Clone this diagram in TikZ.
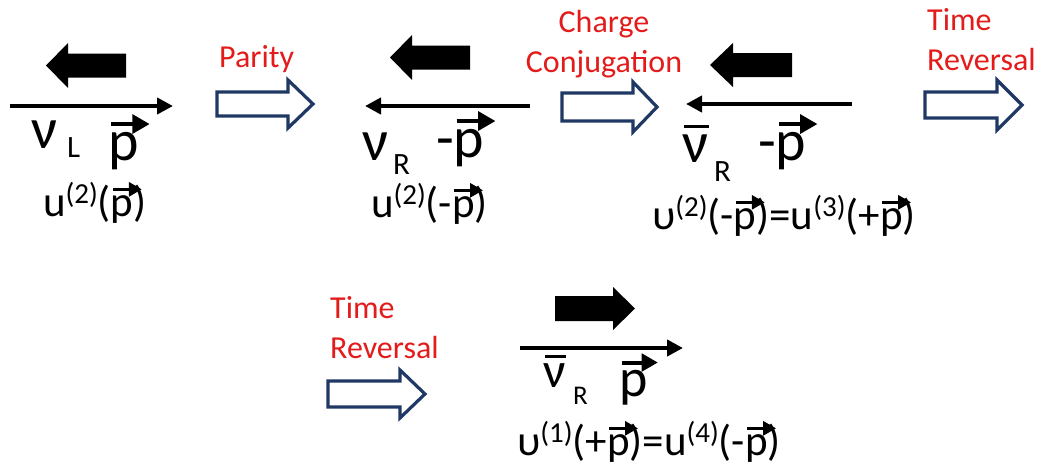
\documentclass[tikz,border=0pt]{standalone}
\usepackage{fontspec}
\setmainfont{Carlito}
\usetikzlibrary{arrows.meta}
\definecolor{navy}{HTML}{1F3864}
\definecolor{lblred}{HTML}{E31B1B}
\newcommand\vp{\leavevmode\rlap{\tikz[overlay,x=1em,y=1em]\draw[line width=0.075em,-{Triangle[length=0.3em,width=0.32em]}] (0.05,0.62) -- (0.72,0.62);}p}
\newcommand\bnu{\leavevmode\rlap{\tikz[overlay,x=1em,y=1em]\fill (0.03,0.59) rectangle (0.46,0.645);}ν}
\newcommand\sups[1]{\raisebox{13pt}{\fontsize{29}{29}\selectfont #1}}
\tikzset{
  txt/.style={inner sep=0pt,outer sep=0pt,anchor=base west},
  big/.style={txt,font=\fontsize{58}{58}\selectfont},
  subl/.style={txt,font=\fontsize{31}{31}\selectfont},
  formula/.style={txt,font=\fontsize{43}{43}\selectfont},
  op/.style={inner sep=0pt,font=\fontsize{32}{40}\selectfont,text=lblred},
  momentum/.style={line width=4.5pt,-{Triangle[length=16pt,width=16pt]}},
  hollow/.style={draw=navy,line width=3.2pt,fill=white,line join=miter},
  block/.style={fill=black}
}
\begin{document}
\begin{tikzpicture}[x=1pt,y=-1pt]
\useasboundingbox (0,0) rectangle (1041,474);
% ---------- panel 1
\fill[block] (46,65.5) -- (68,43) -- (68,53.5) -- (126,53.5) -- (126,77.5) -- (68,77.5) -- (68,88) -- cycle;
\coordinate (m1a) at (10,106); \coordinate (m1b) at (173,106);
\draw[momentum] (m1a) -- (m1b);
\node[big] (nu1) at (31,148) {ν};
\node[subl] (sub1) at (67,157) {L};
\node[big] (p1) at (108,160) {\vp};
\node[formula] (f1) at (43,216) {u\sups{(2)}(\vp)};
% operation 1
\node[op,anchor=base west] (parity) at (219,67) {Parity};
\draw[hollow] (217,92) -- (288,92) -- (288,80) -- (313,104) -- (288,128) -- (288,116) -- (217,116) -- cycle;
% ---------- panel 2
\fill[block] (390,57.5) -- (412,35) -- (412,45.5) -- (470,45.5) -- (470,69.5) -- (412,69.5) -- (412,80) -- cycle;
\coordinate (m2a) at (530,106); \coordinate (m2b) at (365,106);
\draw[momentum] (m2a) -- (m2b);
\node[big] (nu2) at (362,160) {ν};
\node[subl] (sub2) at (393,174) {R};
\node[big] (p2) at (436,157) {-\vp};
\node[formula] (f2) at (371,217) {u\sups{(2)}(-\vp)};
% operation 2
\node[op,align=center,anchor=base] (cc) at (604,72) {Charge\\Conjugation};
\draw[hollow] (562,93) -- (633,93) -- (633,82) -- (657,107) -- (633,132) -- (633,121) -- (562,121) -- cycle;
% ---------- panel 3
\fill[block] (710,65) -- (733,43) -- (733,53) -- (792,53) -- (792,77) -- (733,77) -- (733,87) -- cycle;
\coordinate (m3a) at (852,104); \coordinate (m3b) at (686,104);
\draw[momentum] (m3a) -- (m3b);
\node[big] (nu3) at (682,162) {\bnu};
\node[subl] (sub3) at (714,181) {R};
\node[big] (p3) at (758,160) {-\vp};
\node[formula] (f3) at (652,229) {υ\sups{(2)}(-\vp)=u\sups{(3)}(+\vp)};
% operation 3
\node[op,align=left,anchor=base west] (tr1) at (927,70) {Time\\Reversal};
\draw[hollow] (925,92) -- (997,92) -- (997,80) -- (1022,105) -- (997,130) -- (997,118) -- (925,118) -- cycle;
% ---------- bottom
\node[op,align=left,anchor=base west] (tr2) at (330,358) {Time\\Reversal};
\draw[hollow] (328,381) -- (400,381) -- (400,370) -- (425,394) -- (400,418) -- (400,407) -- (328,407) -- cycle;
\fill[block] (635,308.5) -- (613,287) -- (613,296) -- (555,296) -- (555,321) -- (613,321) -- (613,330) -- cycle;
\coordinate (m4a) at (520,348); \coordinate (m4b) at (683,348);
\draw[momentum] (m4a) -- (m4b);
\node[txt,font=\fontsize{50}{50}\selectfont] (nu4) at (543,387) {\bnu};
\node[txt,font=\fontsize{27}{27}\selectfont] (sub4) at (573,404) {R};
\node[txt,font=\fontsize{54}{54}\selectfont] (p4) at (619,396) {\vp};
\node[formula] (f4) at (517,455) {υ\sups{(1)}(+\vp)=u\sups{(4)}(-\vp)};
\end{tikzpicture}
\end{document}
